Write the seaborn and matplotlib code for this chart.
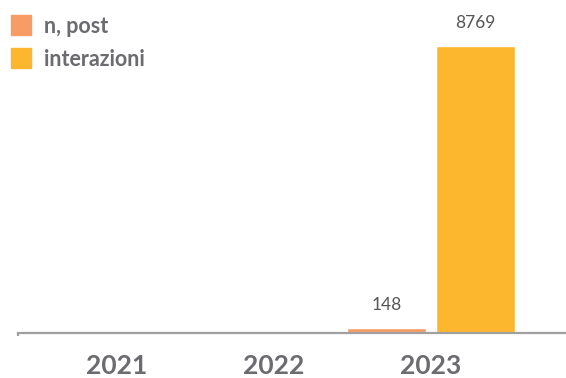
import matplotlib
matplotlib.use("Agg")
import matplotlib.pyplot as plt
from matplotlib.lines import Line2D
import seaborn as sns
import pandas as pd

years = ["2021", "2022", "2023"]
series = ["n, post", "interazioni"]
n_post = [0, 0, 148]
interazioni = [0, 0, 8769]
colors = ["#F89C66", "#FDB72F"]
text_gray = "#6B6B70"

df = pd.DataFrame({
    "anno": years * 2,
    "serie": [series[0]] * 3 + [series[1]] * 3,
    "valore": n_post + interazioni,
})

sns.set_theme(style="white")
plt.rcParams["font.family"] = ["Lato", "DejaVu Sans"]

fig = plt.figure(figsize=(5.66, 3.78), dpi=100)
ax = fig.add_axes([18 / 566, 45 / 378, 548 / 566, 323 / 378])

sns.barplot(data=df, x="anno", y="valore", hue="serie", order=years,
            hue_order=series, palette=colors, width=1.13, gap=0.11,
            saturation=1, ax=ax, legend=False)

ax.set_xlim(-0.63, 2.86)
ax.set_ylim(0, 9870)

for cont in ax.containers:
    labels = [f"{b.get_height():.0f}" if b.get_height() > 0 else "" for b in cont]
    ax.bar_label(cont, labels=labels, padding=11, fontsize=12.5, color="#555555")

for side in ["top", "right", "left"]:
    ax.spines[side].set_visible(False)
ax.spines["bottom"].set_color("#A0A0A0")
ax.spines["bottom"].set_linewidth(1.6)
ax.set_yticks([])
ax.set_xlabel("")
ax.set_ylabel("")
ax.tick_params(axis="x", length=0, pad=15, labelsize=19, labelcolor=text_gray)
for lbl in ax.get_xticklabels():
    lbl.set_fontweight("bold")

# small end mark at the left end of the baseline
ax.plot([0, 0], [0, -0.01], transform=ax.transAxes, color="#A0A0A0",
        lw=1.6, clip_on=False, solid_capstyle="butt")

handles = [Line2D([], [], marker="s", linestyle="", markersize=14.4,
                  markerfacecolor=c, markeredgecolor=c) for c in colors]
fig.legend(handles, series, loc="upper left",
           bbox_to_anchor=(10 / 566, 1 - 16 / 378),
           frameon=False, handlelength=1.0, handletextpad=0.6,
           labelspacing=0.55, borderpad=0, borderaxespad=0,
           prop={"weight": "bold", "size": 15.5}, labelcolor=text_gray)

fig.savefig("out.png", dpi=100)
